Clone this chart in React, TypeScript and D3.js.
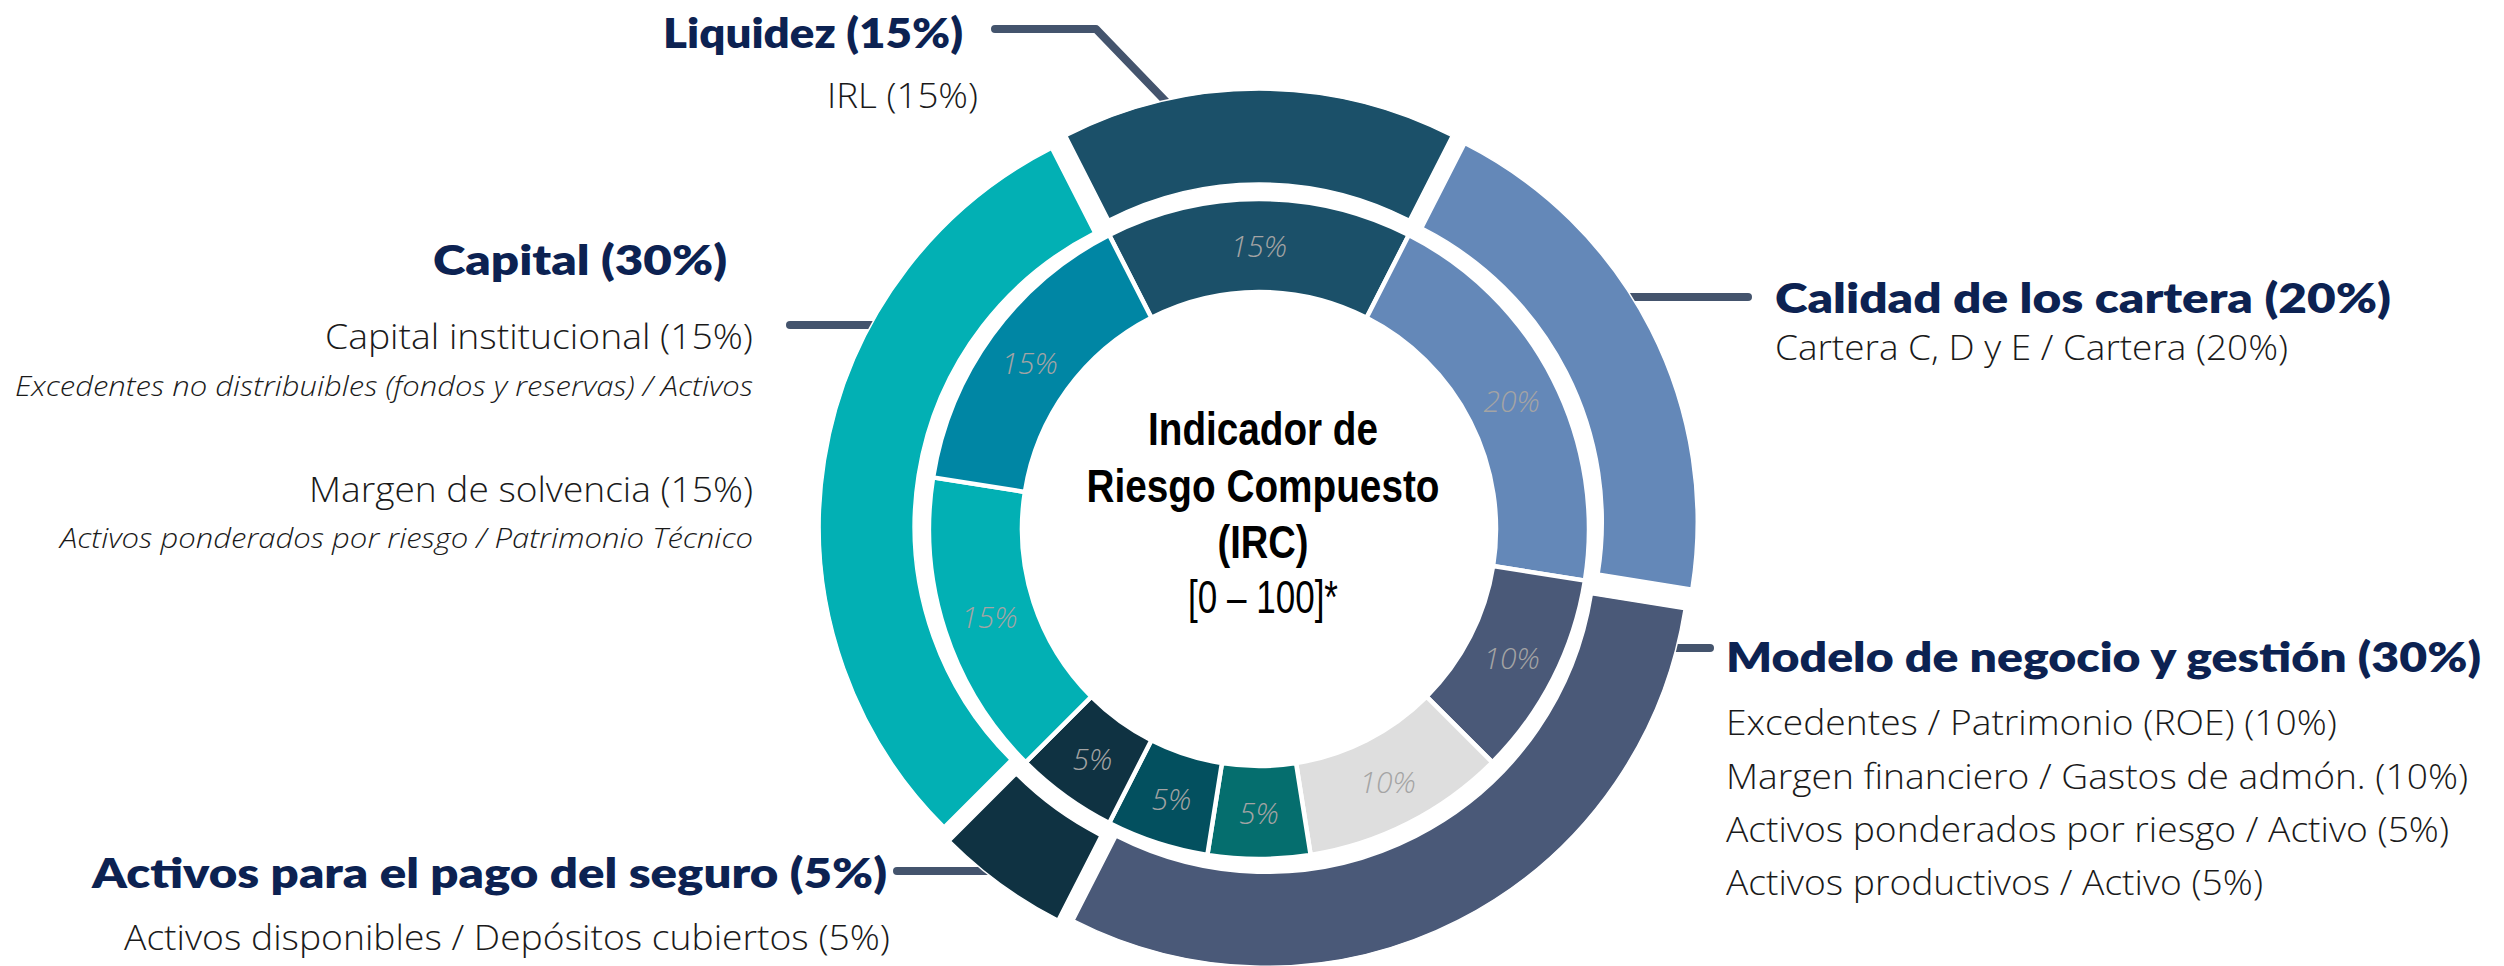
import React from "react";
import * as d3 from "d3";

// ---------- data ----------
const groupNames = [
  "Liquidez",
  "Calidad de los cartera",
  "Modelo de negocio y gestión",
  "Activos para el pago del seguro",
  "Capital",
];
const groupWeights = [15, 20, 30, 5, 30];
const groupColors = ["#1b5069", "#6488b8", "#4a5978", "#0f3242", "#02b0b4"];

const indicatorNames = [
  "IRL",
  "Cartera C, D y E / Cartera",
  "Excedentes / Patrimonio (ROE)",
  "Margen financiero / Gastos de admón.",
  "Activos ponderados por riesgo / Activo",
  "Activos productivos / Activo",
  "Activos disponibles / Depósitos cubiertos",
  "Capital institucional",
  "Margen de solvencia",
];
const indicatorWeights = [15, 20, 10, 10, 5, 5, 5, 15, 15];
const indicatorGroup = [0, 1, 2, 2, 2, 2, 3, 4, 4];
const indicatorColors = ["#1b5069", "#6488b8", "#4a5978", "#dedede", "#056e6e", "#03505f", "#0f3242", "#02b0b4", "#0086a4"];
const indicatorNotes = [
  "", "", "", "", "", "", "",
  "Excedentes no distribuibles (fondos y reservas) / Activos",
  "Activos ponderados por riesgo / Patrimonio Técnico",
];

const centerTitle = ["Indicador de", "Riesgo Compuesto", "(IRC)"];
const centerScale = "[0 – 100]*";

// ---------- layout ----------
const W = 2504;
const H = 966;
const CX = 1259;
const CY = 529;
const R_IN0 = 237;
const R_IN1 = 330;
const R_OUT0 = 330;
const R_OUT1 = 423;
const EXPLODE = 16;

const TITLE_FONT = "Lato, 'Noto Sans', sans-serif";
const BODY_FONT = "'Open Sans', 'Noto Sans', sans-serif";
const NARROW_FONT = "'Liberation Sans Narrow', 'Arial Narrow', 'Liberation Sans', Arial, sans-serif";
const TITLE_COLOR = "#0c2252";
const LEADER_COLOR = "#44546d";
const TEXT_COLOR = "#1a1a1a";

type RowLayout = { y: number; w: number; size: number };
type GroupLayout = {
  anchor: "start" | "end";
  titleX: number;
  titleY: number;
  titleW: number;
  rowX: number;
  rows: RowLayout[];
  notes: RowLayout[];
  leader: { y: number; x: number; elbowX?: number; angleDeg?: number };
};

const groupLayout: GroupLayout[] = [
  {
    anchor: "end", titleX: 963, titleY: 48, titleW: 300, rowX: 978,
    rows: [{ y: 108, w: 151, size: 35 }], notes: [],
    leader: { y: 29, x: 995, elbowX: 1096, angleDeg: -12 },
  },
  {
    anchor: "start", titleX: 1775, titleY: 313, titleW: 616, rowX: 1775,
    rows: [{ y: 360, w: 513, size: 35 }], notes: [],
    leader: { y: 297, x: 1748 },
  },
  {
    anchor: "start", titleX: 1726, titleY: 672, titleW: 755, rowX: 1726,
    rows: [
      { y: 735, w: 611, size: 34 },
      { y: 789, w: 742, size: 34 },
      { y: 842, w: 723, size: 34 },
      { y: 895, w: 537, size: 34 },
    ],
    notes: [],
    leader: { y: 648, x: 1710 },
  },
  {
    anchor: "end", titleX: 887, titleY: 888, titleW: 795, rowX: 890,
    rows: [{ y: 950, w: 766, size: 34 }], notes: [],
    leader: { y: 871, x: 897 },
  },
  {
    anchor: "end", titleX: 727, titleY: 275, titleW: 294, rowX: 753,
    rows: [
      { y: 349, w: 428, size: 35 },
      { y: 502, w: 444, size: 35 },
    ],
    notes: [
      { y: 396, w: 738, size: 28 },
      { y: 548, w: 693, size: 28 },
    ],
    leader: { y: 325, x: 790 },
  },
];

const centerLayout = [
  { y: 445, w: 230 },
  { y: 502, w: 353 },
  { y: 558, w: 91 },
];
const centerScaleLayout = { y: 613, w: 150 };
const CENTER_X = 1263;

export default function App() {
  const total = d3.sum(groupWeights);
  const a0 = (-Math.PI * groupWeights[0]) / total;
  const pie = d3
    .pie<number>()
    .sort(null)
    .value((d) => d)
    .startAngle(a0)
    .endAngle(a0 + 2 * Math.PI);

  const outerArcs = pie(groupWeights);
  const innerArcs = pie(indicatorWeights);

  const arcInner = d3.arc<d3.PieArcDatum<number>>().innerRadius(R_IN0).outerRadius(R_IN1);
  const arcOuter = d3.arc<d3.PieArcDatum<number>>().innerRadius(R_OUT0).outerRadius(R_OUT1);

  const shifts = outerArcs.map((d) => {
    const mid = (d.startAngle + d.endAngle) / 2;
    return [EXPLODE * Math.sin(mid), -EXPLODE * Math.cos(mid)];
  });

  const leaders = groupLayout.map((L, i) => {
    const [sx, sy] = shifts[i];
    const ocx = CX + sx;
    const ocy = CY + sy;
    const ld = L.leader;
    if (ld.elbowX !== undefined && ld.angleDeg !== undefined) {
      const a = (ld.angleDeg * Math.PI) / 180;
      const r = R_OUT1 - 10;
      const px = ocx + r * Math.sin(a);
      const py = ocy - r * Math.cos(a);
      return d3.line()([
        [ld.x, ld.y],
        [ld.elbowX, ld.y],
        [px, py],
      ]);
    }
    const dy = ld.y - ocy;
    const half = Math.sqrt(Math.max(0, R_OUT1 * R_OUT1 - dy * dy));
    const edgeX = L.anchor === "end" ? ocx - half + 10 : ocx + half - 10;
    return d3.line()([
      [ld.x, ld.y],
      [edgeX, ld.y],
    ]);
  });

  return (
    <svg
      width={W}
      height={H}
      viewBox={`0 0 ${W} ${H}`}
      style={{ position: "absolute", left: 0, top: 0, display: "block", background: "#fff" }}
    >
      <rect x={0} y={0} width={W} height={H} fill="#fff" />
      <g fill="none" stroke={LEADER_COLOR} strokeWidth={8} strokeLinecap="round" strokeLinejoin="round">
        {leaders.map((p, i) => (
          <path key={i} d={p || ""} />
        ))}
      </g>

      <g transform={`translate(${CX},${CY})`}>
        {outerArcs.map((d, i) => (
          <path
            key={i}
            d={arcOuter(d) || ""}
            transform={`translate(${shifts[i][0]},${shifts[i][1]})`}
            fill={groupColors[i]}
            stroke="#fff"
            strokeWidth={1.5}
          />
        ))}
        {innerArcs.map((d, i) => (
          <path key={i} d={arcInner(d) || ""} fill={indicatorColors[i]} stroke="#fff" strokeWidth={4.5} />
        ))}
        {innerArcs.map((d, i) => {
          const [x, y] = arcInner.centroid(d);
          return (
            <text
              key={i}
              x={x}
              y={y}
              textAnchor="middle"
              dominantBaseline="central"
              fontFamily={BODY_FONT}
              fontStyle="italic"
              fontWeight={300}
              fontSize={30}
              fill="#a4a4a4"
            >
              {`${indicatorWeights[i]}%`}
            </text>
          );
        })}
      </g>

      <g fontFamily={NARROW_FONT} fill="#000" textAnchor="middle">
        {centerTitle.map((t, i) => (
          <text
            key={i}
            x={CENTER_X}
            y={centerLayout[i].y}
            fontSize={46}
            fontWeight={700}
            textLength={centerLayout[i].w}
            lengthAdjust="spacingAndGlyphs"
          >
            {t}
          </text>
        ))}
        <text
          x={CENTER_X}
          y={centerScaleLayout.y}
          fontSize={47}
          fontWeight={400}
          textLength={centerScaleLayout.w}
          lengthAdjust="spacingAndGlyphs"
        >
          {centerScale}
        </text>
      </g>

      {groupLayout.map((L, gi) => {
        const inds = indicatorNames.map((n, k) => k).filter((k) => indicatorGroup[k] === gi);
        const noteIdx = inds.filter((k) => indicatorNotes[k]);
        return (
          <g key={gi} textAnchor={L.anchor}>
            <text
              x={L.titleX}
              y={L.titleY}
              fontFamily={TITLE_FONT}
              fontWeight={800}
              fontSize={42}
              fill={TITLE_COLOR}
              textLength={L.titleW}
              lengthAdjust="spacingAndGlyphs"
            >
              {`${groupNames[gi]} (${groupWeights[gi]}%)`}
            </text>
            {inds.map((k, j) => (
              <text
                key={`r${k}`}
                x={L.rowX}
                y={L.rows[j].y}
                fontFamily={BODY_FONT}
                fontWeight={300}
                fontSize={L.rows[j].size}
                fill={TEXT_COLOR}
                textLength={L.rows[j].w}
                lengthAdjust="spacingAndGlyphs"
              >
                {`${indicatorNames[k]} (${indicatorWeights[k]}%)`}
              </text>
            ))}
            {noteIdx.map((k, j) => (
              <text
                key={`n${k}`}
                x={L.rowX}
                y={L.notes[j].y}
                fontFamily={BODY_FONT}
                fontWeight={300}
                fontStyle="italic"
                fontSize={L.notes[j].size}
                fill={TEXT_COLOR}
                textLength={L.notes[j].w}
                lengthAdjust="spacingAndGlyphs"
              >
                {indicatorNotes[k]}
              </text>
            ))}
          </g>
        );
      })}
    </svg>
  );
}
